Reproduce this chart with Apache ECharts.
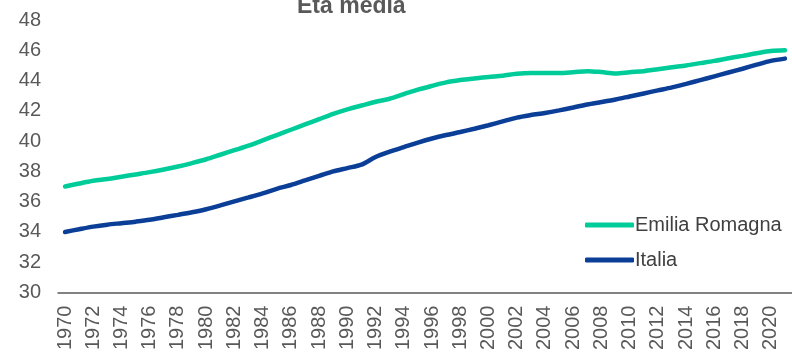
<!DOCTYPE html>
<html>
<head>
<meta charset="utf-8">
<script src="https://cdn.jsdelivr.net/npm/echarts@6/dist/echarts.min.js"></script>
<style>
  html, body { margin: 0; padding: 0; background: #fff; }
  #chart { width: 792px; height: 353px; }
</style>
</head>
<body>
<div id="chart"></div>
<script>
// Years 1970–2021
const years = [];
for (let y = 1970; y <= 2021; y++) years.push(String(y));

// Average age, Emilia-Romagna
const emiliaRomagna = [
  37.0, 37.2, 37.38, 37.5, 37.65, 37.8, 37.95, 38.12, 38.32, 38.55,
  38.8, 39.1, 39.4, 39.7, 40.05, 40.4, 40.75, 41.1, 41.45, 41.8,
  42.1, 42.35, 42.6, 42.8, 43.1, 43.4, 43.65, 43.88, 44.03, 44.14,
  44.24, 44.32, 44.45, 44.5, 44.5, 44.5, 44.55, 44.62, 44.56, 44.47,
  44.55, 44.62, 44.75, 44.88, 45.0, 45.15, 45.3, 45.47, 45.63, 45.8,
  45.95, 46.0
];

// Average age, Italy
const italia = [
  34.0, 34.18, 34.35, 34.48, 34.58, 34.68, 34.8, 34.97, 35.13, 35.3,
  35.5, 35.75, 36.02, 36.28, 36.55, 36.85, 37.1, 37.4, 37.7, 38.0,
  38.22, 38.45, 38.95, 39.3, 39.6, 39.9, 40.17, 40.4, 40.6, 40.82,
  41.05, 41.3, 41.55, 41.72, 41.86, 42.03, 42.22, 42.42, 42.58, 42.75,
  42.95, 43.15, 43.35, 43.55, 43.78, 44.03, 44.28, 44.53, 44.78, 45.05,
  45.3, 45.45
];

const FONT = 'Liberation Sans, Arial, sans-serif';

const chart = echarts.init(document.getElementById('chart'));
chart.setOption({
  animation: false,
  backgroundColor: '#ffffff',
  textStyle: { fontFamily: FONT },
  title: {
    text: 'Età media',
    left: 292,
    top: -10,
    textStyle: { fontSize: 23, fontWeight: 'bold', color: '#595959', fontFamily: FONT }
  },
  legend: {
    orient: 'vertical',
    left: 580,
    top: 210,
    itemWidth: 49,
    itemHeight: 5,
    itemGap: 15,
    icon: 'roundRect',
    textStyle: { fontSize: 20, color: '#404040', padding: [0, 0, 0, -4] },
    data: ['Emilia Romagna', 'Italia']
  },
  grid: { left: 58, right: -2, top: 20, bottom: 59 },
  xAxis: {
    type: 'category',
    data: years,
    boundaryGap: true,
    axisLine: { lineStyle: { color: '#595959', width: 1.5 } },
    axisTick: { show: false },
    axisLabel: {
      interval: 1,
      rotate: 90,
      margin: 13,
      fontSize: 20,
      color: '#595959'
    }
  },
  yAxis: {
    type: 'value',
    min: 30,
    max: 48,
    interval: 2,
    splitLine: { show: false },
    axisLine: { show: false },
    axisTick: { show: false },
    axisLabel: { fontSize: 20, color: '#595959', margin: 17 }
  },
  series: [
    {
      name: 'Emilia Romagna',
      type: 'line',
      data: emiliaRomagna,
      smooth: 0.3,
      symbol: 'none',
      lineStyle: { width: 4.5, color: '#00CC99', cap: 'round' },
      itemStyle: { color: '#00CC99' }
    },
    {
      name: 'Italia',
      type: 'line',
      data: italia,
      smooth: 0.3,
      symbol: 'none',
      lineStyle: { width: 4.5, color: '#0B3F97', cap: 'round' },
      itemStyle: { color: '#0B3F97' }
    }
  ]
});
</script>
</body>
</html>
